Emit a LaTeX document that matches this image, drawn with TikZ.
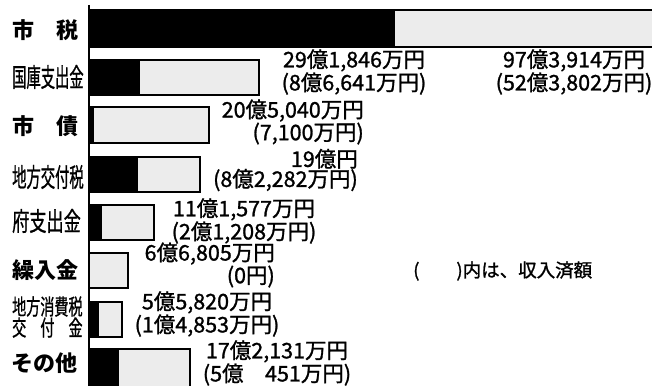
\documentclass[tikz,border=0pt]{standalone}
\usepackage{fontspec}
\setmainfont{Noto Sans CJK JP}
\newfontfamily\gakufont{Noto Sans CJK JP}[FakeBold=1.2]
\newfontfamily\hosofont{Noto Sans CJK JP}[FakeStretch=0.55, FakeBold=0.8]
\newfontfamily\futofont{Noto Sans CJK JP}[FakeStretch=0.66, FakeBold=0.8]
\newfontfamily\nidanfont{Noto Sans CJK JP}[FakeStretch=0.64, FakeBold=0.8]
\usetikzlibrary{calc}
\tikzset{kamoku/.style={font=\bfseries\fontsize{22}{22}\selectfont, inner sep=0pt, anchor=west}}
\tikzset{kamokusm/.style={font=\hosofont\fontsize{26}{21}\selectfont, inner sep=0pt, anchor=west}}
\tikzset{gaku/.style={font=\gakufont\fontsize{21.5}{20}\selectfont, inner sep=0pt, align=center}}
\tikzset{yosan/.style={fill=gray!15, draw=black, line width=1.2pt}}
\tikzset{shunyu/.style={fill=black}}
\newcommand{\zaigenbar}[4]{
	\draw[yosan] (89,#1) rectangle (#4,#2);
	\fill[shunyu] (89,#1) rectangle (#3,#2);
}

\begin{document}
\begin{tikzpicture}[x=1pt,y=-1pt]
	\useasboundingbox (0,0) rectangle (652,385);
	% bars: top, bottom, end of black, end of gray
	\zaigenbar{10}{47}{395}{660}
	\zaigenbar{60}{95}{140}{259}
	\zaigenbar{107}{143}{94}{209}
	\zaigenbar{157}{192}{138}{200}
	\zaigenbar{205}{240}{102}{154}
	\zaigenbar{253}{288}{89}{128}
	\zaigenbar{302}{337}{99}{122}
	\zaigenbar{349}{390}{119}{190}
	\coordinate (jikutop) at (89,5);
	\coordinate (jikubot) at (89,386);
	\draw[line width=2.8pt] (jikutop) -- (jikubot);
	% labels
	\node[kamoku] (shizei) at (12,30) {市　税};
	\node[kamokusm] (kokko) at (12,77) {国庫支出金};
	\node[kamoku] (shisai) at (12,126) {市　債};
	\node[kamokusm] (kofu) at (12,177) {地方交付税};
	\node[kamokusm, font=\futofont\fontsize{26}{21}\selectfont] (fushi) at (12,221) {府支出金};
	\node[kamoku] (kurire) at (12,270) {繰入金};
	\node[kamokusm, align=left, font=\nidanfont\fontsize{22}{21}\selectfont] (shohi) at (12,317) {地方消費税\\交　付　金};
	\node[kamoku] (sonota) at (11,363) {その他};
	% amounts
	\node[gaku] (shizei-gaku) at (574,72) {97億3,914万円\\(52億3,802万円)};
	\node[gaku] (kokko-gaku) at (354,72) {29億1,846万円\\(8億6,641万円)};
	\node[gaku, align=right, anchor=east] (shisai-gaku) at (364,122) {20億5,040万円\\(7,100万円)};
	\node[gaku, align=right, anchor=east] (kofu-gaku) at (358,170) {19億円\\(8億2,282万円)};
	\node[gaku] (fushi-gaku) at (244,221) {11億1,577万円\\(2億1,208万円)};
	\node[gaku, align=right, anchor=east] (kurire-gaku) at (275,265) {6億6,805万円\\(0円)};
	\node[gaku] (shohi-gaku) at (207,314) {5億5,820万円\\(1億4,853万円)};
	\node[gaku] (sonota-gaku) at (277,363) {17億2,131万円\\(5億　451万円)};
	\node[font=\gakufont\fontsize{18.5}{18.5}\selectfont, inner sep=0pt, anchor=west] (chuki) at (413,271) {(　　)内は、収入済額};
\end{tikzpicture}
\end{document}
